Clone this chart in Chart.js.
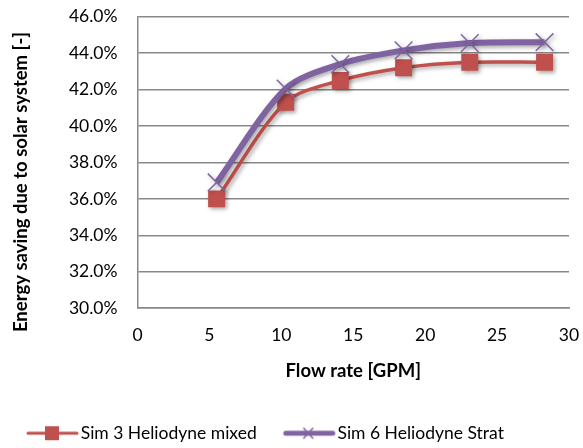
<!DOCTYPE html>
<html><head><meta charset="utf-8">
<script src="https://cdn.jsdelivr.net/npm/chart.js@4/dist/chart.umd.min.js"></script>
<style>html,body{margin:0;padding:0;background:#fff;}#wrap{width:583px;height:448px;}</style>
</head><body><div id="wrap"><canvas id="c" width="583" height="448"></canvas></div>
<script>
const flowRates = [5.5, 10.3, 14.1, 18.5, 23.1, 28.3];
const simMixed = [36.0, 41.3, 42.5, 43.2, 43.5, 43.5];
const simStrat = [36.9, 42.05, 43.4, 44.15, 44.55, 44.6];
const seriesNames = ["Sim 3 Heliodyne mixed", "Sim 6 Heliodyne Strat"];
const yTicks = [30, 32, 34, 36, 38, 40, 42, 44, 46];
const xTicks = [0, 5, 10, 15, 20, 25, 30];
const xTitle = 'Flow rate [GPM]';
const yTitle = 'Energy saving due to solar system [-]';

const RED = '#C0504D', PURPLE = '#8064A2';
const FONT = 'Lato, "Open Sans", sans-serif';

function legendIcon(kind){
  const c = document.createElement('canvas');
  c.width = 62; c.height = 20;
  const g = c.getContext('2d');
  g.lineCap = 'round';
  if (kind === 0) {
    g.strokeStyle = RED; g.lineWidth = 3;
    g.beginPath(); g.moveTo(6,10); g.lineTo(55,10); g.stroke();
    g.fillStyle = RED; g.fillRect(23,3,14,14);
  } else {
    g.strokeStyle = PURPLE; g.lineWidth = 5;
    g.beginPath(); g.moveTo(7,10); g.lineTo(54,10); g.stroke();
    g.lineWidth = 1.5; g.beginPath();
    g.moveTo(25,5); g.lineTo(34,15); g.moveTo(34,5); g.lineTo(25,15); g.stroke();
  }
  return c;
}

const shadowPlugin = {
  id: 'shadow',
  beforeDatasetsDraw(chart){
    const ctx = chart.ctx; ctx.save();
    ctx.shadowColor = 'rgba(0,0,0,0.35)'; ctx.shadowBlur = 4;
    ctx.shadowOffsetX = 2; ctx.shadowOffsetY = 2;
  },
  afterDatasetsDraw(chart){ chart.ctx.restore(); }
};

const yTitlePlugin = {
  id: 'yTitle',
  afterDraw(chart){
    const ctx = chart.ctx; ctx.save();
    ctx.translate(21, 182); ctx.rotate(-Math.PI/2);
    ctx.font = 'bold 18.5px ' + FONT; ctx.fillStyle = '#000';
    ctx.textAlign = 'center'; ctx.textBaseline = 'middle';
    ctx.fillText(yTitle, 0, 0);
    ctx.restore();
  }
};

new Chart(document.getElementById('c'), {
  type: 'line',
  data: {
    datasets: [
      { label: seriesNames[0], data: flowRates.map((x,i)=>({x, y: simMixed[i]})),
        borderColor: RED, backgroundColor: RED, borderWidth: 3.5,
        pointStyle: 'rect', pointRadius: 12, pointHoverRadius: 12, pointBorderWidth: 0,
        tension: 0.3, order: 2 },
      { label: seriesNames[1], data: flowRates.map((x,i)=>({x, y: simStrat[i]})),
        borderColor: PURPLE, backgroundColor: PURPLE, borderWidth: 6,
        pointStyle: 'crossRot', pointRadius: 12.5, pointHoverRadius: 12.5,
        pointBorderWidth: 1.5, pointBorderColor: PURPLE,
        tension: 0.3, order: 1 }
    ]
  },
  options: {
    responsive: false, animation: false, devicePixelRatio: 1,
    layout: { padding: { left: 0, right: 11, top: 16.7, bottom: -4 } },
    plugins: {
      tooltip: { enabled: false },
      legend: {
        position: 'bottom', align: 'start',
        labels: {
          font: { family: FONT, size: 17.5 }, color: '#000',
          usePointStyle: true, pointStyleWidth: 38, padding: 34,
          generateLabels(chart){
            return chart.data.datasets.map((d,i)=>({
              text: d.label, pointStyle: legendIcon(i), datasetIndex: i,
              fillStyle: d.borderColor, strokeStyle: d.borderColor, lineWidth: 0,
              fontColor: '#000', hidden: false
            }));
          }
        }
      }
    },
    scales: {
      x: {
        type: 'linear', min: 0, max: 30,
        afterBuildTicks(s){ s.ticks = xTicks.map(v=>({value:v})); },
        grid: { display: false, drawTicks: false },
        border: { display: true, color: '#888', width: 1.5 },
        ticks: { font: { family: FONT, size: 17.5 }, color: '#000', padding: 17 },
        title: { display: true, text: xTitle, font: { family: FONT, size: 18.5, weight: 'bold' }, color: '#000', padding: { top: 10, bottom: 8 } },
        afterFit(s){ s.height = 82.3; s.paddingLeft = 0; s.paddingRight = 0; }
      },
      y: {
        min: 30, max: 46,
        afterBuildTicks(s){ s.ticks = yTicks.map(v=>({value:v})); },
        grid: { color: '#888', lineWidth: 1.5, drawTicks: false },
        border: { display: true, color: '#888', width: 1.5 },
        ticks: { font: { family: FONT, size: 17.5 }, color: '#000', padding: 20,
          callback: v => v.toFixed(1) + '%' },
        title: { display: false },
        afterFit(s){ s.width = 137.5; s.paddingTop = 0; s.paddingBottom = 0; }
      }
    }
  },
  plugins: [shadowPlugin, yTitlePlugin]
});
</script>
</body></html>
